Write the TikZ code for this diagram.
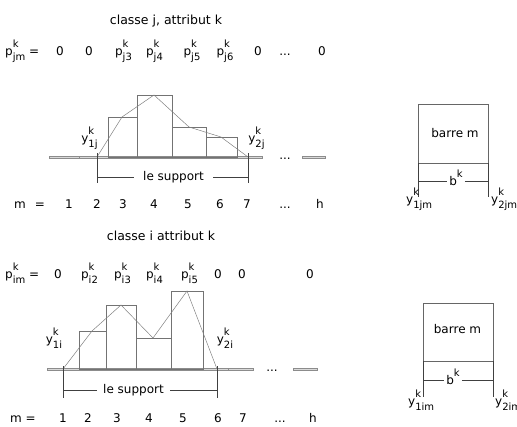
\documentclass[tikz,border=0pt]{standalone}
\usepackage{fontspec}
\setmainfont{DejaVu Sans}
\usetikzlibrary{positioning}
% letter with superscript k and a subscript, both at the letter's right edge
\newcommand{\kidx}[2]{#1\hbox{\fontsize{10}{10}\selectfont\rlap{\raisebox{8pt}{k}}\raisebox{-5pt}{#2}}}
\newcommand{\pk}[1]{\kidx{p}{#1}}
\newcommand{\yk}[1]{\kidx{y}{#1}}
\newcommand{\bk}{b\hbox{\fontsize{10}{10}\selectfont\raisebox{8pt}{k}}}
\newcommand{\trois}{...}
\begin{document}
\begin{tikzpicture}[x=1pt, y=-1pt,
      lbl/.style={font=\fontsize{12}{14}\selectfont, inner sep=1pt, anchor=base},
      ttl/.style={font=\fontsize{12.5}{15}\selectfont, anchor=base},
      gap/.style={font=\fontsize{12}{14}\selectfont, fill=white, inner ysep=1pt},
      bar/.style={draw=black!55, line width=0.7pt},
      zero/.style={draw=black!45, fill=black!15, line width=0.5pt},
      poly/.style={draw=black!50, line width=0.5pt},
      tick/.style={draw=black!75, line width=0.5pt},
      box/.style={draw=black!60, line width=0.7pt}]
  \useasboundingbox (0,0) rectangle (517,426);

  % classe j
  \node[ttl] (tj) at (166,24) {classe j, attribut k};
  \node[lbl, anchor=base west] (pj) at (4,55) {\pk{jm} =};
  \foreach \x/\t [count=\i] in {60/0, 89/0, 123.5/\pk{j3}, 154.5/\pk{j4},
      192/\pk{j5}, 225/\pk{j6}, 258/0, 285/\trois, 322/0}
    \node[lbl] (pj\i) at (\x,55) {\t};
  \foreach \a/\b in {49/79, 79/108, 108/137, 137/172, 172/206, 206/237, 237/262, 302/325}
    \draw[zero] (\a,156) rectangle (\b,158.5);
  \foreach \a/\b/\h in {108/137/117, 137/172/95, 172/206/127, 206/237/137}
    \draw[bar] (\a,157) rectangle (\b,\h);
  \node[lbl] (dj) at (285,159) {\trois};
  \draw[poly] (97,157) -- (122,117) -- (154,95) -- (189,127) -- (221,137) -- (248,157);
  \coordinate (y1j) at (97,153);  \coordinate (y1jb) at (97,183);
  \coordinate (y2j) at (248,153); \coordinate (y2jb) at (248,183);
  \draw[tick] (y1j) -- (y1jb);
  \draw[tick] (y2j) -- (y2jb);
  \node[lbl] (ly1j) at (89.5,142) {\yk{1j}};
  \node[lbl] (ly2j) at (256.5,142) {\yk{2j}};
  \node[gap, inner xsep=9pt] (sj) at (173.5,177) {le support};
  \draw[tick] (97,177) -- (sj) -- (248,177);
  \node[lbl] (mj) at (20,208) {m};
  \node[lbl] (eqj) at (40,208) {=};
  \foreach \x/\t [count=\i] in {69/1, 97/2, 123/3, 154/4, 188/5, 220/6, 247/7, 285/\trois, 320/h}
    \node[lbl] (mj\i) at (\x,208) {\t};

  % barre m, classe j
  \draw[box] (418,104) rectangle (488,163);
  \node[lbl] (bj) at (455,137) {barre m};
  \coordinate (b1j) at (418,197); \coordinate (b2j) at (488,197);
  \draw[tick] (418,163) -- (b1j);
  \draw[tick] (488,163) -- (b2j);
  \node[lbl, fill=white, inner xsep=2pt, inner ysep=0pt] (bkj) at (456,185) {\bk};
  \draw[tick] (418,181) -- (bkj.west |- 0,181);
  \draw[tick] (bkj.east |- 0,181) -- (488,181);
  \node[lbl, anchor=base west, inner sep=0pt] (ly1jm) at (406,203) {\yk{1jm}};
  \node[lbl, anchor=base west, inner sep=0pt] (ly2jm) at (491,203) {\yk{2jm}};

  % classe i
  \node[ttl] (ti) at (161,240) {classe i attribut k};
  \node[lbl, anchor=base west] (pi) at (4,278) {\pk{im} =};
  \foreach \x/\t [count=\i] in {58/0, 89.5/\pk{i2}, 122.5/\pk{i3}, 154.5/\pk{i4},
      189.5/\pk{i5}, 218/0, 242/0, 310/0}
    \node[lbl] (pi\i) at (\x,278) {\t};
  \foreach \a/\b in {47/79, 79/106, 106/136, 136/171, 171/203, 203/228, 228/253, 293/317}
    \draw[zero] (\a,368) rectangle (\b,370.5);
  \foreach \a/\b/\h in {79/106/331, 106/136/305, 136/171/338, 171/203/291}
    \draw[bar] (\a,369) rectangle (\b,\h);
  \node[lbl] (di) at (272,371) {\trois};
  \draw[poly] (63,369) -- (92,331) -- (121,305) -- (153,338) -- (187,291) -- (217,369);
  \coordinate (y1i) at (63,366);  \coordinate (y1ib) at (63,398);
  \coordinate (y2i) at (217,366); \coordinate (y2ib) at (217,398);
  \draw[tick] (y1i) -- (y1ib);
  \draw[tick] (y2i) -- (y2ib);
  \node[lbl] (ly1i) at (54,343) {\yk{1i}};
  \node[lbl] (ly2i) at (225,343) {\yk{2i}};
  \node[gap, inner xsep=6pt] (si) at (133.5,390) {le support};
  \draw[tick] (63,390) -- (si) -- (217,390);
  \node[lbl] (mi) at (23,422) {m =};
  \foreach \x/\t [count=\i] in {63/1, 88/2, 117/3, 149/4, 183/5, 218/6, 243/7, 280/\trois, 313/h}
    \node[lbl] (mi\i) at (\x,422) {\t};

  % barre m, classe i
  \draw[box] (423,303) rectangle (493,361);
  \node[lbl] (bi) at (457.5,333) {barre m};
  \coordinate (b1i) at (423,397); \coordinate (b2i) at (493,397);
  \draw[tick] (423,361) -- (b1i);
  \draw[tick] (493,361) -- (b2i);
  \node[lbl, fill=white, inner xsep=2pt, inner ysep=0pt] (bki) at (453,384) {\bk};
  \draw[tick] (423,380) -- (bki.west |- 0,380);
  \draw[tick] (bki.east |- 0,380) -- (493,380);
  \node[lbl, anchor=base west, inner sep=0pt] (ly1im) at (408,405) {\yk{1im}};
  \node[lbl, anchor=base west, inner sep=0pt] (ly2im) at (495,405) {\yk{2im}};
\end{tikzpicture}
\end{document}
